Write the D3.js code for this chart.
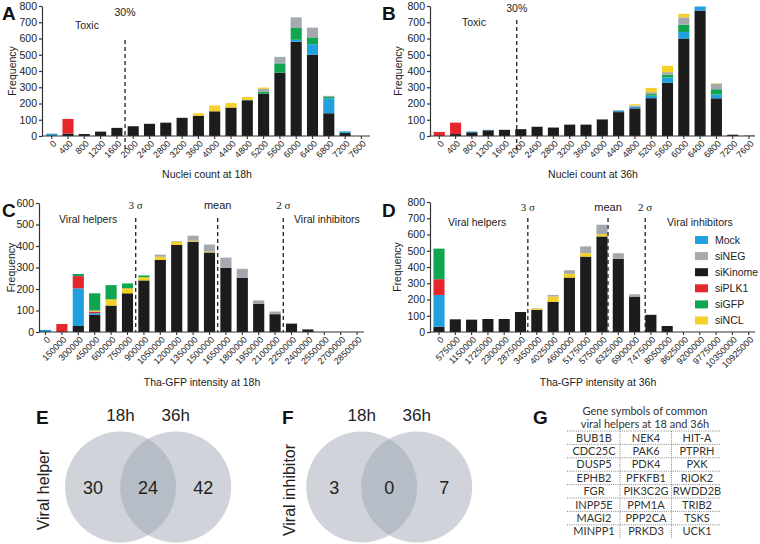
<!DOCTYPE html>
<html><head><meta charset="utf-8">
<script src="https://cdn.jsdelivr.net/npm/d3@7"></script>
<style>
body{margin:0;background:#fff}
svg{display:block}
text{font-family:"Liberation Sans",Arial,sans-serif;fill:#222}
</style>
</head><body><svg id="c" width="760" height="544"></svg>
<script>
// ---------- DATA ----------
const SERIES = ["Mock","siNEG","siKinome","siPLK1","siGFP","siNCL"];
const SERIES_COLORS = ["#20A0DD","#A5A9AF","#1C1C1C","#E5262B","#10A550","#F5D027"];

const nucleiLabels = ["0","400","800","1200","1600","2000","2400","2800","3200","3600","4000","4400","4800","5200","5600","6000","6400","6800","7200","7600"];
const gfp18Labels = ["0","150000","300000","450000","600000","750000","900000","1050000","1200000","1350000","1500000","1650000","1800000","1950000","2100000","2250000","2400000","2550000","2700000","2850000"];
const gfp36Labels = ["0","575000","1150000","1725000","2300000","2875000","3450000","4025000","4600000","5175000","5750000","6325000","6900000","7475000","8050000","8625000","9200000","9775000","10350000","10925000"];

// A: nuclei count at 18h
const a_Kinome = [0,15,12,27,50,60,75,82,112,125,152,175,220,260,390,580,500,140,18,0];
const a_Mock   = [12,0,0,0,0,0,0,0,0,0,0,0,0,0,0,12,65,92,10,0];
const a_PLK1   = [0,90,0,0,0,0,0,0,0,0,0,0,0,0,0,0,0,0,0,0];
const a_GFP    = [0,0,0,0,0,0,0,0,0,0,0,0,3,12,57,73,42,8,0,0];
const a_NEG    = [4,0,0,0,0,0,0,0,0,0,0,0,0,18,40,65,60,7,3,0];
const a_NCL    = [0,0,0,0,0,0,0,0,0,15,36,28,17,8,0,0,0,0,0,0];

// B: nuclei count at 36h
const b_Kinome = [0,12,23,35,38,42,57,52,70,70,102,147,170,233,328,600,772,232,8,2];
const b_Mock   = [0,0,5,3,0,0,0,0,0,0,0,8,10,15,32,40,25,23,0,0];
const b_PLK1   = [25,70,0,0,0,0,0,0,0,0,0,0,0,0,0,0,0,0,0,0];
const b_GFP    = [0,0,0,0,0,0,0,0,0,0,0,0,0,10,18,45,0,33,0,0];
const b_NEG    = [0,0,0,0,0,0,0,0,0,0,0,5,8,12,15,45,0,34,0,0];
const b_NCL    = [0,0,0,0,0,0,0,0,0,0,0,0,7,26,39,22,0,3,0,0];

// C: Tha-GFP intensity at 18h
const c_Kinome = [0,0,28,80,123,180,240,335,405,420,370,298,252,132,83,39,12,0,0,0];
const c_Mock   = [10,0,175,8,0,0,0,0,0,0,0,0,0,0,0,0,0,0,0,0];
const c_PLK1   = [0,37,57,7,0,0,0,0,0,0,0,0,0,0,0,0,0,0,0,0];
const c_NCL    = [0,0,0,5,29,23,15,15,15,4,4,0,0,0,0,0,0,0,0,0];
const c_GFP    = [0,0,10,80,66,23,8,0,0,0,0,0,0,0,0,0,0,0,0,0];
const c_NEG    = [0,0,0,0,0,0,0,10,3,24,33,48,42,15,12,0,0,0,0,0];

// D: Tha-GFP intensity at 36h
const d_Kinome = [33,78,76,80,80,123,136,186,335,464,588,450,218,105,37,0,0,0,0,0];
const d_Mock   = [195,0,0,0,0,0,0,0,0,0,0,0,0,0,0,0,0,0,0,0];
const d_PLK1   = [97,0,0,0,0,0,0,0,0,0,0,0,0,0,0,0,0,0,0,0];
const d_NCL    = [0,0,0,0,0,0,8,32,23,21,14,0,0,0,0,0,0,0,0,0];
const d_GFP    = [188,0,0,0,0,0,0,0,0,0,0,0,0,0,0,0,0,0,0,0];
const d_NEG    = [0,0,0,0,0,0,3,10,22,42,58,35,14,3,0,0,0,0,0,0];

// Threshold markers (fractional category index)
const toxicCut18 = [{label:"30%", idx:4.5}];
const toxicCut36 = [{label:"30%", idx:4.75}];
const sigma18 = [{label:"3 σ", idx:5.5},{label:"mean", idx:10.5},{label:"2 σ", idx:14.5}];
const sigma36 = [{label:"3 σ", idx:5.45},{label:"mean", idx:10.37},{label:"2 σ", idx:12.65}];

// Venn
const vennSets = ["18h","36h"];
const helperCounts = [30,24,42];
const inhibitorCounts = [3,0,7];

// Gene table
const tableTitle = ["Gene symbols of common","viral helpers at 18 and 36h"];
const geneRows = [
  ["BUB1B","NEK4","HIT-A"],
  ["CDC25C","PAK6","PTPRH"],
  ["DUSP5","PDK4","PXK"],
  ["EPHB2","PFKFB1","RIOK2"],
  ["FGR","PIK3C2G","RWDD2B"],
  ["INPP5E","PPM1A","TRIB2"],
  ["MAGI2","PPP2CA","TSKS"],
  ["MINPP1","PRKD3","UCK1"]
];

// ---------- DRAW ----------
const svg = d3.select("#c");
const color = d3.scaleOrdinal().domain(SERIES).range(SERIES_COLORS);

function panelLetter(t, x, y){
  svg.append("text").attr("x",x).attr("y",y).text(t)
    .style("font-size","19px").style("font-weight","bold").style("fill","#111");
}

function barPanel(cfg){
  const g = svg.append("g");
  const n = cfg.cats.length;
  const x0 = cfg.first - cfg.step/2, x1 = cfg.first + cfg.step*(n-0.5);
  const x = d3.scaleBand().domain(cfg.cats).range([x0,x1]).paddingInner(0.32).paddingOuter(0.16);
  const xi = d3.scaleLinear().domain([-0.5, n-0.5]).range([x0,x1]);
  const y = d3.scaleLinear().domain([0,cfg.yMax]).range([cfg.bottom,cfg.top]);

  const rows = cfg.cats.map((c,i)=>{const r={cat:c}; cfg.order.forEach(k=>r[k]=cfg.values[k][i]); return r;});
  const stack = d3.stack().keys(cfg.order)(rows);
  g.selectAll("g.layer").data(stack).join("g").attr("class","layer")
    .attr("fill",d=>color(d.key))
    .selectAll("rect").data(d=>d).join("rect")
    .attr("x",d=>x(d.data.cat)).attr("width",x.bandwidth())
    .attr("y",d=>y(d[1])).attr("height",d=>Math.max(0,y(d[0])-y(d[1])));

  // y axis
  const ya = g.append("g").attr("transform",`translate(${cfg.axisX},0)`)
    .call(d3.axisLeft(y).tickValues(d3.range(0,cfg.yMax+1,100)).tickSize(3).tickSizeOuter(0).tickPadding(2));
  ya.selectAll("text").style("font-size","10.5px").style("fill","#222");
  ya.selectAll("line,path").attr("stroke","#333").attr("stroke-width",1.2);

  // x axis
  const xa = g.append("g").attr("transform",`translate(0,${cfg.bottom})`)
    .call(d3.axisBottom(x).tickSize(3).tickSizeOuter(0));
  xa.select(".domain").remove();
  xa.selectAll("line").attr("stroke","#333").attr("stroke-width",1.1);
  xa.selectAll("text").attr("x",0).attr("y",0).attr("dy","0.35em")
    .attr("transform","translate(3,6) rotate(-45)").style("text-anchor","end")
    .style("font-size","9px").style("fill","#222");
  g.append("line").attr("x1",cfg.axisX).attr("x2",cfg.end).attr("y1",cfg.bottom).attr("y2",cfg.bottom)
    .attr("stroke","#333").attr("stroke-width",1.2);

  // axis titles
  g.append("text").attr("x",cfg.titleX).attr("y",cfg.titleY).attr("text-anchor","middle")
    .style("font-size","10.5px").text(cfg.title);
  g.append("text").attr("transform",`translate(${cfg.freqX},${(cfg.top+cfg.bottom)/2}) rotate(-90)`)
    .attr("text-anchor","middle").style("font-size","10.5px").text("Frequency");

  // threshold lines
  cfg.marks.forEach(m=>{
    const xm = xi(m.idx);
    g.append("line").attr("x1",xm).attr("x2",xm).attr("y1",cfg.dashTop).attr("y2",cfg.dashBottom)
      .attr("stroke","#222").attr("stroke-width",1.3).attr("stroke-dasharray","4,3");
    g.append("text").attr("x",xm).attr("y",cfg.markY).attr("text-anchor","middle")
      .style("font-size", cfg.sigma ? "11px" : "10.5px")
      .style("font-family", m.label.includes("σ") ? "'Liberation Serif',serif" : null)
      .text(m.label);
  });
  (cfg.notes||[]).forEach(t=>{
    g.append("text").attr("x",t.x).attr("y",t.y).attr("text-anchor",t.anchor||"start")
      .style("font-size","10.5px").text(t.text);
  });
  return {x,y};
}

barPanel({cats:nucleiLabels, order:["siKinome","Mock","siPLK1","siGFP","siNEG","siNCL"],
  values:{siKinome:a_Kinome,Mock:a_Mock,siPLK1:a_PLK1,siGFP:a_GFP,siNEG:a_NEG,siNCL:a_NCL},
  yMax:800, axisX:42, top:6, bottom:136, first:51.7, step:16.3, end:370,
  title:"Nuclei count at 18h", titleX:207, titleY:178, freqX:16,
  marks:toxicCut18, dashTop:40, dashBottom:150, markY:16,
  notes:[{text:"Toxic",x:87,y:29,anchor:"middle"}]});

barPanel({cats:nucleiLabels, order:["siKinome","Mock","siPLK1","siGFP","siNEG","siNCL"],
  values:{siKinome:b_Kinome,Mock:b_Mock,siPLK1:b_PLK1,siGFP:b_GFP,siNEG:b_NEG,siNCL:b_NCL},
  yMax:800, axisX:430, top:6, bottom:136, first:439.3, step:16.3, end:755,
  title:"Nuclei count at 36h", titleX:593, titleY:178, freqX:402,
  marks:toxicCut36, dashTop:20, dashBottom:150, markY:12,
  notes:[{text:"Toxic",x:474,y:26,anchor:"middle"}]});

barPanel({cats:gfp18Labels, order:["siKinome","Mock","siPLK1","siNCL","siGFP","siNEG"],
  values:{siKinome:c_Kinome,Mock:c_Mock,siPLK1:c_PLK1,siNCL:c_NCL,siGFP:c_GFP,siNEG:c_NEG},
  yMax:600, axisX:39, top:203, bottom:332, first:45.5, step:16.4, end:364,
  title:"Tha-GFP intensity at 18h", titleX:202, titleY:386, freqX:15,
  marks:sigma18, dashTop:218, dashBottom:332, markY:209, sigma:true,
  notes:[{text:"Viral helpers",x:59,y:223},{text:"Viral inhibitors",x:294,y:223}]});

barPanel({cats:gfp36Labels, order:["siKinome","Mock","siPLK1","siNCL","siGFP","siNEG"],
  values:{siKinome:d_Kinome,Mock:d_Mock,siPLK1:d_PLK1,siNCL:d_NCL,siGFP:d_GFP,siNEG:d_NEG},
  yMax:800, axisX:430, top:202, bottom:332, first:439, step:16.3, end:755,
  title:"Tha-GFP intensity at 36h", titleX:598, titleY:386, freqX:401,
  marks:sigma36, dashTop:218, dashBottom:332, markY:211, sigma:true,
  notes:[{text:"Viral helpers",x:448,y:226},{text:"Viral inhibitors",x:667,y:226}]});

// legend
const lg = svg.append("g").attr("transform","translate(695,236)");
const li = lg.selectAll("g").data(SERIES).join("g").attr("transform",(d,i)=>`translate(0,${i*16.1})`);
li.append("rect").attr("width",13).attr("height",8).attr("fill",d=>color(d));
li.append("text").attr("x",20).attr("y",4).attr("dy","0.35em").style("font-size","10.5px").text(d=>d);

panelLetter("A",2,20); panelLetter("B",382,20);
panelLetter("C",2,217); panelLetter("D",382,217);
panelLetter("E",36,424); panelLetter("F",282,424); panelLetter("G",533,424);

// Venn diagrams
function venn(cx1, cx2, cy, r, counts, label, labelX){
  const g = svg.append("g");
  [cx1,cx2].forEach(cx=>g.append("circle").attr("cx",cx).attr("cy",cy).attr("r",r)
    .attr("fill","rgb(155,163,176)").attr("fill-opacity",0.47));
  vennSets.forEach((s,i)=>g.append("text").attr("x",[cx1,cx2][i]).attr("y",421)
    .attr("text-anchor","middle").style("font-size","17px").text(s));
  const xs = [cx1-(cx2-cx1)*0.5, (cx1+cx2)/2, cx2+(cx2-cx1)*0.5];
  counts.forEach((c,i)=>g.append("text").attr("x",xs[i]).attr("y",cy+7)
    .attr("text-anchor","middle").style("font-size","18px").text(c));
  g.append("text").attr("transform",`translate(${labelX},${cy+3}) rotate(-90)`)
    .attr("text-anchor","middle").style("font-size","16px").text(label);
}
venn(120.5, 175.7, 487, 55.5, helperCounts, "Viral helper", 49);
venn(361.7, 416.7, 487, 55.5, inhibitorCounts, "Viral inhibitor", 295);

// Gene table
const tg = svg.append("g");
tableTitle.forEach((t,i)=>tg.append("text").attr("x",645).attr("y",415+i*13)
  .attr("text-anchor","middle").style("font-size","11px").style("font-family","Lato,sans-serif").style("fill","#333").text(t));
const colX = [594,646,697], tTop = 431, rowH = 13.4;
geneRows.forEach((row,i)=>{
  tg.append("line").attr("x1",567).attr("x2",721).attr("y1",tTop+i*rowH).attr("y2",tTop+i*rowH)
    .attr("stroke","#666").attr("stroke-width",0.8).attr("stroke-dasharray","1,1.2");
  row.forEach((gname,j)=>tg.append("text").attr("x",colX[j]).attr("y",tTop+i*rowH+rowH/2)
    .attr("dy","0.36em").attr("text-anchor","middle").style("font-size","11px")
    .style("font-family","Lato,sans-serif").style("fill","#333").text(gname));
});
[620,671.5].forEach(xv=>tg.append("line").attr("x1",xv).attr("x2",xv).attr("y1",tTop).attr("y2",tTop+rowH*8)
  .attr("stroke","#666").attr("stroke-width",0.8).attr("stroke-dasharray","1,1.2"));
</script>
</body></html>
